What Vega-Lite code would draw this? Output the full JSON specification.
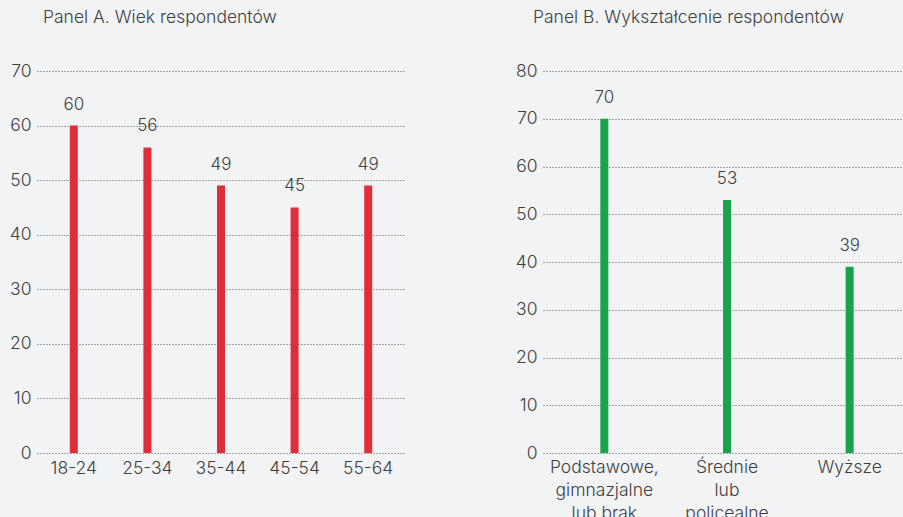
{
  "$schema": "https://vega.github.io/schema/vega-lite/v6.json",
  "background": "#f2f3f5",
  "padding": {"left": 7, "top": 8, "right": 0, "bottom": 0},
  "autosize": {"type": "pad"},
  "spacing": 108,
  "config": {
    "font": "Inter",
    "view": {"stroke": null},
    "axis": {
      "labelFont": "Inter",
      "labelFontSize": 17.5,
      "labelFontWeight": 300,
      "labelColor": "#3f3f3f",
      "domain": false,
      "ticks": false,
      "titleFontSize": 0
    },
    "title": {"font": "Inter", "fontSize": 17.5, "fontWeight": 300, "color": "#3f3f3f", "anchor": "start", "frame": "group", "offset": 36}
  },
  "hconcat": [
    {
      "title": {"text": "Panel A. Wiek respondentów", "dx": 6},
      "width": 368,
      "height": 382,
      "data": {"values": [
        {"grupa": "18-24", "proc": 60},
        {"grupa": "25-34", "proc": 56},
        {"grupa": "35-44", "proc": 49},
        {"grupa": "45-54", "proc": 45},
        {"grupa": "55-64", "proc": 49}
      ]},
      "encoding": {
        "x": {"field": "grupa", "type": "nominal", "sort": null, "title": null,
              "scale": {"paddingInner": 0, "paddingOuter": 0},
              "axis": {"labelAngle": 0, "labelPadding": 6, "grid": false}},
        "y": {"field": "proc", "type": "quantitative", "title": null,
              "scale": {"domain": [0, 70], "nice": false},
              "axis": {"values": [0, 10, 20, 30, 40, 50, 60, 70], "grid": true, "gridColor": "#555555", "gridDash": [1, 2], "gridWidth": 1, "labelPadding": 6, "minExtent": 30, "maxExtent": 30}}
      },
      "layer": [
        {"mark": {"type": "bar", "size": 8, "color": "#e02d3a"}},
        {"mark": {"type": "text", "dy": -21, "fontSize": 17, "fontWeight": 300, "color": "#3f3f3f", "font": "Inter"},
         "encoding": {"text": {"field": "proc", "type": "quantitative"}}}
      ]
    },
    {
      "title": {"text": "Panel B. Wykształcenie respondentów", "dx": -10},
      "width": 368,
      "height": 382,
      "data": {"values": [
        {"grupa": "Podstawowe, gimnazjalne lub brak", "proc": 70},
        {"grupa": "Średnie lub policealne", "proc": 53},
        {"grupa": "Wyższe", "proc": 39}
      ]},
      "encoding": {
        "x": {"field": "grupa", "type": "nominal", "sort": null, "title": null,
              "scale": {"paddingInner": 0, "paddingOuter": 0},
              "axis": {"labelAngle": 0, "labelPadding": 5, "grid": false, "labelLineHeight": 23, "labelLimit": 200,
                       "labelExpr": "datum.value == 'Podstawowe, gimnazjalne lub brak' ? ['Podstawowe,', 'gimnazjalne', 'lub brak'] : datum.value == 'Średnie lub policealne' ? ['Średnie', 'lub', 'policealne'] : datum.value"}},
        "y": {"field": "proc", "type": "quantitative", "title": null,
              "scale": {"domain": [0, 80], "nice": false},
              "axis": {"values": [0, 10, 20, 30, 40, 50, 60, 70, 80], "grid": true, "gridColor": "#555555", "gridDash": [1, 2], "gridWidth": 1, "labelPadding": 6, "minExtent": 30, "maxExtent": 30}}
      },
      "layer": [
        {"mark": {"type": "bar", "size": 8, "color": "#1aa34a"}},
        {"mark": {"type": "text", "dy": -21, "fontSize": 17, "fontWeight": 300, "color": "#3f3f3f", "font": "Inter"},
         "encoding": {"text": {"field": "proc", "type": "quantitative"}}}
      ]
    }
  ]
}
